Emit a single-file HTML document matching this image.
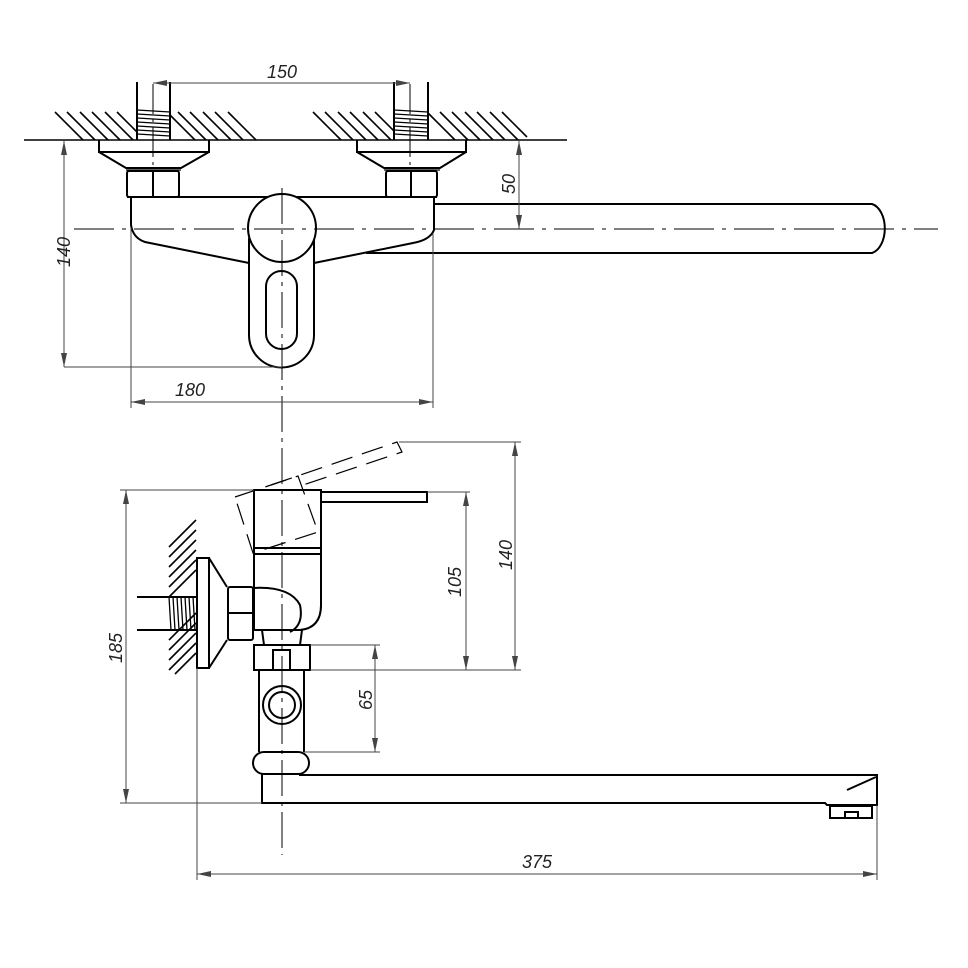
<!DOCTYPE html>
<html><head><meta charset="utf-8"><style>html,body{margin:0;padding:0;background:#fff}svg{display:block}text{font-family:"Liberation Sans",sans-serif;font-style:italic;font-size:18px;fill:#222}</style></head><body>
<svg width="968" height="968" viewBox="0 0 968 968" xmlns="http://www.w3.org/2000/svg">
<defs>
<marker id="a" viewBox="0 0 14 6" refX="14" refY="3" markerWidth="14" markerHeight="6" markerUnits="userSpaceOnUse" orient="auto-start-reverse"><path d="M0,0 L14,3 L0,6 Z" fill="#444"/></marker>
</defs>
<g fill="none" stroke="#000" stroke-width="2">
<line x1="24" y1="140" x2="567" y2="140" stroke-width="1.6"/>
<g stroke-width="1.6">
<line x1="55" y1="112" x2="83" y2="140"/><line x1="67" y1="112" x2="95" y2="140"/><line x1="80" y1="112" x2="108" y2="140"/><line x1="92" y1="112" x2="120" y2="140"/><line x1="105" y1="112" x2="133" y2="140"/><line x1="117" y1="112" x2="137" y2="132"/>
<line x1="170" y1="115" x2="195" y2="140"/><line x1="178" y1="112" x2="206" y2="140"/><line x1="190" y1="112" x2="218" y2="140"/><line x1="203" y1="112" x2="231" y2="140"/><line x1="215" y1="112" x2="243" y2="140"/><line x1="228" y1="112" x2="256" y2="140"/>
<line x1="313" y1="112" x2="341" y2="140"/><line x1="325" y1="112" x2="353" y2="140"/><line x1="338" y1="112" x2="366" y2="140"/><line x1="350" y1="112" x2="378" y2="140"/><line x1="363" y1="112" x2="391" y2="140"/><line x1="375" y1="112" x2="394" y2="131"/>
<line x1="428" y1="113" x2="455" y2="140"/><line x1="440" y1="112" x2="468" y2="140"/><line x1="452" y1="112" x2="480" y2="140"/><line x1="465" y1="112" x2="493" y2="140"/><line x1="477" y1="112" x2="505" y2="140"/><line x1="490" y1="112" x2="518" y2="140"/><line x1="502" y1="112" x2="527" y2="137"/>
</g>
<line x1="137" y1="82" x2="137" y2="140"/><line x1="170" y1="82" x2="170" y2="140"/>
<line x1="394" y1="82" x2="394" y2="140"/><line x1="428" y1="82" x2="428" y2="140"/>
<g stroke-width="1.3">
<line x1="137" y1="110" x2="170" y2="112"/><line x1="137" y1="114" x2="170" y2="116"/><line x1="137" y1="118" x2="170" y2="120"/><line x1="137" y1="122" x2="170" y2="124"/><line x1="137" y1="126" x2="170" y2="128"/><line x1="137" y1="130" x2="170" y2="132"/><line x1="137" y1="134" x2="170" y2="136"/>
<line x1="394" y1="110" x2="428" y2="112"/><line x1="394" y1="114" x2="428" y2="116"/><line x1="394" y1="118" x2="428" y2="120"/><line x1="394" y1="122" x2="428" y2="124"/><line x1="394" y1="126" x2="428" y2="128"/><line x1="394" y1="130" x2="428" y2="132"/><line x1="394" y1="134" x2="428" y2="136"/>
</g>
<path d="M99,140 V152 H209 V140 M99,152 L126,168 H181 L209,152"/>
<path d="M357,140 V152 H466 V140 M357,152 L384,168 H440 L466,152"/>
<line x1="126" y1="170" x2="181" y2="170" stroke-width="1.2"/><line x1="384" y1="170" x2="440" y2="170" stroke-width="1.2"/>
<rect x="127" y="171" width="52" height="26" rx="2"/><line x1="153" y1="171" x2="153" y2="197"/>
<rect x="386" y="171" width="51" height="26" rx="2"/><line x1="411" y1="171" x2="411" y2="197"/>
<line x1="127" y1="197" x2="437" y2="197"/>
<path d="M131,198 V225 Q133,238 145,242 L249,263"/>
<path d="M434,198 V230 Q430,240 413,243 L314,263"/>
<path d="M434,204 H872 A16,25 0 0 1 872,253 H366"/>
<path d="M249,238 V335 A32.5,32.5 0 0 0 314,335 V238" fill="#fff"/>
<circle cx="282" cy="228" r="34" fill="#fff"/>
<rect x="266" y="271" width="31" height="78" rx="15.5"/>
<rect x="254" y="490" width="67" height="58"/>
<line x1="254" y1="554" x2="321" y2="554"/>
<rect x="321" y="492" width="106" height="10"/>
<path d="M254,548 V630 H300 Q321,628 321,605 V548"/>
<path d="M253,588 Q290,586 300,605 Q304,625 290,632"/>
<path d="M262,630 L264,645 M302,630 L300,645"/>
<rect x="228" y="587" width="25" height="53" rx="2"/><line x1="228" y1="613" x2="253" y2="613"/>
<rect x="197" y="558" width="12" height="110"/>
<path d="M209,558 L227,587 M209,668 L227,640"/>
<line x1="137" y1="597" x2="197" y2="597"/><line x1="137" y1="630" x2="197" y2="630"/>
<g stroke-width="1.3">
<line x1="169" y1="597" x2="171" y2="630"/><line x1="173" y1="597" x2="175" y2="630"/><line x1="177" y1="597" x2="179" y2="630"/><line x1="181" y1="597" x2="183" y2="630"/><line x1="185" y1="597" x2="187" y2="630"/><line x1="189" y1="597" x2="191" y2="630"/><line x1="193" y1="597" x2="195" y2="630"/>
</g>
<g stroke-width="1.6">
<line x1="169" y1="547" x2="196" y2="520"/><line x1="169" y1="557" x2="196" y2="530"/><line x1="169" y1="567" x2="196" y2="540"/><line x1="169" y1="577" x2="196" y2="550"/><line x1="169" y1="587" x2="196" y2="560"/><line x1="169" y1="597" x2="196" y2="570"/>
<line x1="169" y1="640" x2="196" y2="613"/><line x1="169" y1="650" x2="196" y2="623"/><line x1="169" y1="660" x2="196" y2="633"/><line x1="169" y1="670" x2="196" y2="643"/><line x1="175" y1="674" x2="196" y2="653"/>
</g>
<rect x="254" y="645" width="56" height="25"/><rect x="273" y="650" width="17" height="20"/>
<path d="M259,670 V752 M304,670 V752"/>
<circle cx="282" cy="705" r="19"/><circle cx="282" cy="705" r="13"/>
<rect x="253" y="752" width="56" height="22" rx="11"/>
<path d="M262,774 V803 H825 L827,805 H877 V775 H299"/>
<line x1="847" y1="790" x2="876" y2="777"/>
<rect x="830" y="806" width="42" height="12"/><rect x="845" y="812" width="13" height="6"/>
</g>
<g fill="none" stroke="#000" stroke-width="1.2" stroke-dasharray="22,10">
<path d="M235,497 L298,476 L318,532 L253,553 Z"/>
<path d="M271,485 L397,442 L402,452 L303,485"/>
</g>
<g fill="none" stroke="#000" stroke-width="1">
<line x1="74" y1="229" x2="938" y2="229" stroke-dasharray="40,8,4,8"/>
<line x1="282" y1="188" x2="282" y2="855" stroke-dasharray="36,6,4,6"/>
<line x1="153" y1="84" x2="153" y2="168" stroke-dasharray="30,5,3,5"/>
<line x1="410" y1="84" x2="410" y2="168" stroke-dasharray="30,5,3,5"/>
</g>
<g fill="none" stroke="#444" stroke-width="1">
<line x1="153" y1="83" x2="410" y2="83" marker-start="url(#a)" marker-end="url(#a)"/>
<line x1="64" y1="141" x2="64" y2="367" marker-start="url(#a)" marker-end="url(#a)"/>
<line x1="64" y1="367" x2="282" y2="367"/>
<line x1="131" y1="402" x2="433" y2="402" marker-start="url(#a)" marker-end="url(#a)"/>
<line x1="131" y1="228" x2="131" y2="408"/><line x1="433" y1="233" x2="433" y2="408"/>
<line x1="519" y1="141" x2="519" y2="229" marker-start="url(#a)" marker-end="url(#a)"/>
<line x1="126" y1="490" x2="126" y2="803" marker-start="url(#a)" marker-end="url(#a)"/>
<line x1="120" y1="490" x2="254" y2="490"/><line x1="120" y1="803" x2="262" y2="803"/>
<line x1="515" y1="442" x2="515" y2="670" marker-start="url(#a)" marker-end="url(#a)"/>
<line x1="399" y1="442" x2="521" y2="442"/><line x1="310" y1="670" x2="521" y2="670"/>
<line x1="466" y1="492" x2="466" y2="670" marker-start="url(#a)" marker-end="url(#a)"/>
<line x1="427" y1="492" x2="470" y2="492"/>
<line x1="375" y1="645" x2="375" y2="752" marker-start="url(#a)" marker-end="url(#a)"/>
<line x1="310" y1="645" x2="380" y2="645"/><line x1="304" y1="752" x2="380" y2="752"/>
<line x1="197" y1="874" x2="877" y2="874" marker-start="url(#a)" marker-end="url(#a)"/>
<line x1="197" y1="668" x2="197" y2="880"/><line x1="877" y1="805" x2="877" y2="880"/>
</g>
<text x="282" y="78" text-anchor="middle">150</text>
<text x="190" y="396" text-anchor="middle">180</text>
<text x="537" y="868" text-anchor="middle">375</text>
<text transform="translate(70,252) rotate(-90)" text-anchor="middle">140</text>
<text transform="translate(515,184) rotate(-90)" text-anchor="middle">50</text>
<text transform="translate(122,648) rotate(-90)" text-anchor="middle">185</text>
<text transform="translate(512,555) rotate(-90)" text-anchor="middle">140</text>
<text transform="translate(461,582) rotate(-90)" text-anchor="middle">105</text>
<text transform="translate(372,700) rotate(-90)" text-anchor="middle">65</text>
</svg>
</body></html>
